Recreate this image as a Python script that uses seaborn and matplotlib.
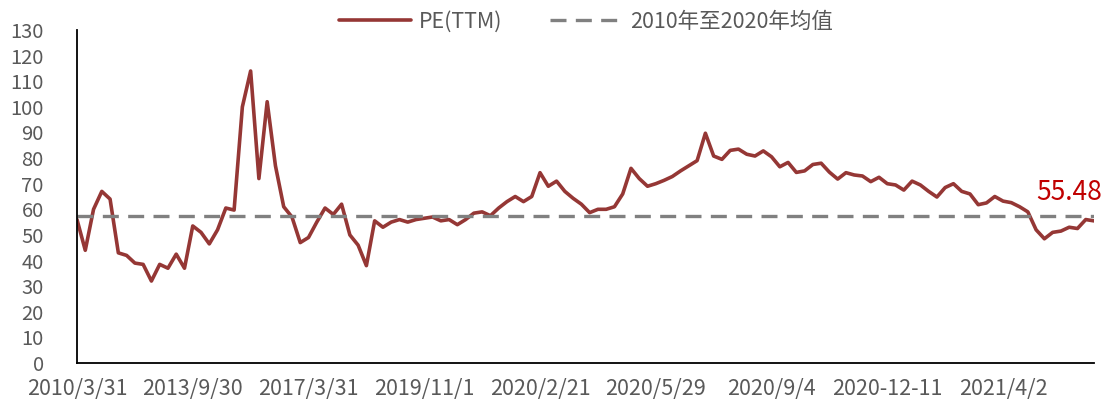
import numpy as np
import pandas as pd
import matplotlib
matplotlib.use("Agg")
import matplotlib.pyplot as plt
import seaborn as sns

# ---- data ----
pe_values = [
    56, 44, 60, 67, 64, 43, 42, 39, 38.5, 32,
    38.5, 37, 42.5, 37, 53.5, 51, 46.5, 52, 60.5, 59.7,
    100, 114, 72, 102, 77, 61, 57, 47, 49, 55,
    60.5, 58, 62, 50, 46, 38, 55.5, 53, 55, 56,
    55, 56, 56.5, 57, 55.5, 56, 54, 56, 58.5, 59,
    57.5, 60.5, 63, 65, 63, 65, 74.3, 69, 71, 67,
    64.3, 62, 58.7, 60, 60, 61, 66, 76, 72, 69,
    70, 71.3, 72.8, 75, 77, 79, 89.7, 80.8, 79.5, 83,
    83.5, 81.5, 80.8, 82.8, 80.5, 76.6, 78.3, 74.4, 75, 77.5,
    78, 74.5, 71.8, 74.3, 73.4, 73, 70.8, 72.5, 70, 69.5,
    67.5, 71, 69.5, 67, 64.8, 68.5, 70, 67, 66, 61.8,
    62.5, 65, 63.2, 62.6, 61, 59, 52, 48.5, 51, 51.5,
    53, 52.5, 56, 55.48,
]
mean_value = 57.39
last_label = "55.48"
tick_labels = ["2010/3/31", "2013/9/30", "2017/3/31", "2019/11/1", "2020/2/21",
               "2020/5/29", "2020/9/4", "2020-12-11", "2021/4/2"]
tick_step = 14
y_ticks = list(range(0, 131, 10))
series_names = ["PE(TTM)", "2010年至2020年均值"]

# ---- style ----
sns.set_theme(style="white")
plt.rcParams["font.family"] = ["Noto Sans CJK SC", "DejaVu Sans"]
label_color = "#595959"

fig = plt.figure(figsize=(11.12, 4.0), dpi=100)
ax = fig.add_axes([77 / 1112, 37 / 400, (1094 - 77) / 1112, 333 / 400])

df = pd.DataFrame({"idx": np.arange(len(pe_values)), "pe": pe_values})
sns.lineplot(data=df, x="idx", y="pe", ax=ax, color="#953735", linewidth=2.6,
             label=series_names[0])
ax.axhline(mean_value, color="#808080", linewidth=2.4, linestyle=(0, (4.8, 2.8)),
           label=series_names[1])

ax.set_xlim(0, len(pe_values) - 1)
ax.set_ylim(y_ticks[0], y_ticks[-1])
ax.set_yticks(y_ticks)
ax.set_yticklabels([str(t) for t in y_ticks])
ax.set_xticks(list(range(0, len(pe_values), tick_step))[:len(tick_labels)])
ax.set_xticklabels(tick_labels)
ax.set_xlabel("")
ax.set_ylabel("")

ax.tick_params(axis="both", length=0, labelcolor=label_color)
ax.tick_params(axis="y", pad=24, labelsize=14.5)
ax.tick_params(axis="x", pad=11, labelsize=15.5)

for side in ["top", "right"]:
    ax.spines[side].set_visible(False)
for side in ["left", "bottom"]:
    ax.spines[side].set_color("black")
    ax.spines[side].set_linewidth(1.3)

ax.text(len(pe_values) - 1 - 3, pe_values[-1] + 11, last_label, color="#C00000",
        fontsize=19, ha="center", va="center", clip_on=False)

leg = ax.legend(loc="upper center", bbox_to_anchor=(586 / 1112, 1.005),
                bbox_transform=fig.transFigure,
                ncol=2, frameon=False, fontsize=15.5, handlelength=3.3,
                columnspacing=2.2, handletextpad=0.4, borderaxespad=0.2)
for t in leg.get_texts():
    t.set_color(label_color)

fig.savefig("out.png", dpi=100)
